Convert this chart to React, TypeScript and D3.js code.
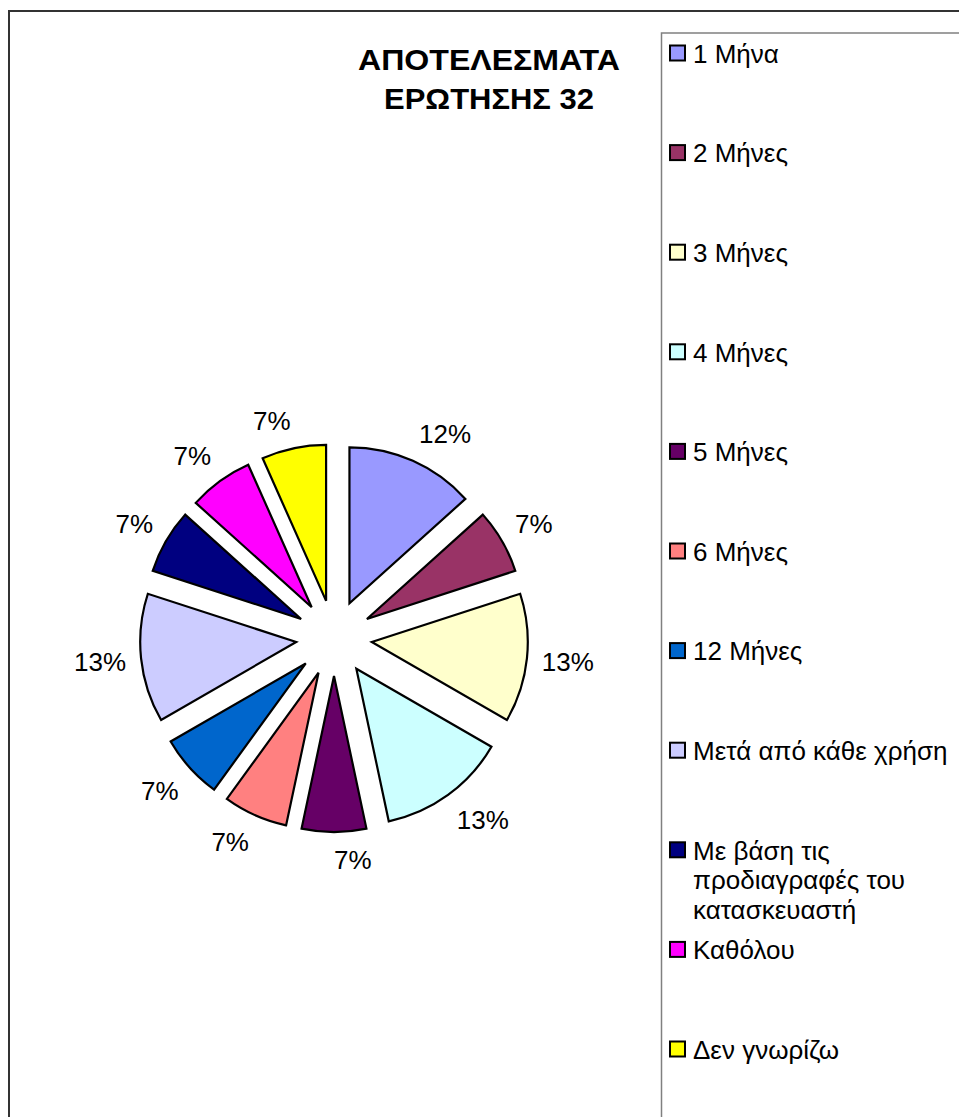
import React from "react";
import * as d3 from "d3";

const categories = [
  "1 Μήνα",
  "2 Μήνες",
  "3 Μήνες",
  "4 Μήνες",
  "5 Μήνες",
  "6 Μήνες",
  "12 Μήνες",
  "Μετά από κάθε χρήση",
  "Με βάση τις προδιαγραφές του κατασκευαστή",
  "Καθόλου",
  "Δεν γνωρίζω",
];
const responses = [2, 1, 2, 2, 1, 1, 1, 2, 1, 1, 1];
const percentLabels = ["12%", "7%", "13%", "13%", "7%", "7%", "7%", "13%", "7%", "7%", "7%"];
const legendLines = [
  ["1 Μήνα"],
  ["2 Μήνες"],
  ["3 Μήνες"],
  ["4 Μήνες"],
  ["5 Μήνες"],
  ["6 Μήνες"],
  ["12 Μήνες"],
  ["Μετά από κάθε χρήση"],
  ["Με βάση τις", "προδιαγραφές του", "κατασκευαστή"],
  ["Καθόλου"],
  ["Δεν γνωρίζω"],
];
const colors = [
  "#9999FF",
  "#993366",
  "#FFFFCC",
  "#CCFFFF",
  "#660066",
  "#FF8080",
  "#0066CC",
  "#CCCCFF",
  "#000080",
  "#FF00FF",
  "#FFFF00",
];
const titleLines = ["ΑΠΟΤΕΛΕΣΜΑΤΑ", "ΕΡΩΤΗΣΗΣ 32"];

const FONT = "'Liberation Sans', Arial, sans-serif";

function textWidth(s: string, size: number) {
  let w = 0;
  for (const ch of s) w += ch === "%" ? 0.889 : 0.556;
  return w * size;
}

export default function App() {
  const W = 959;
  const H = 1117;
  const cx = 334;
  const cy = 638;
  const r = 156;
  const explode = 38;
  const labelR = 209;
  const fontSize = 26;

  const pie = d3
    .pie<number>()
    .sort(null)
    .value((d) => d)
    .startAngle(0)
    .endAngle(2 * Math.PI);
  const arcs = pie(responses);
  const arc = d3.arc<d3.PieArcDatum<number>>().innerRadius(0).outerRadius(r);

  const legendX = 661.5;
  const legendY = 33;
  const itemY0 = 53.5;
  const itemStep = 99.6;

  const titleBase = [70, 109.3];
  const titleLen = [262, 210];

  return (
    <svg
      width={W}
      height={H}
      style={{ position: "absolute", left: 0, top: 0, background: "#fff" }}
      fontFamily={FONT}
    >
      <rect x={9} y={11} width={1100} height={1300} fill="#fff" stroke="#333" strokeWidth={2} />
      {titleLines.map((t, i) => (
        <text
          key={t}
          x={489}
          y={titleBase[i]}
          textAnchor="middle"
          fontWeight="bold"
          fontSize={30}
          textLength={titleLen[i]}
          lengthAdjust="spacingAndGlyphs"
          fill="#000"
        >
          {t}
        </text>
      ))}
      <g>
        {arcs.map((a, i) => {
          const mid = (a.startAngle + a.endAngle) / 2;
          const dx = Math.sin(mid) * explode;
          const dy = -Math.cos(mid) * explode;
          return (
            <path
              key={i}
              d={arc(a) || ""}
              transform={`translate(${cx + dx},${cy + dy})`}
              fill={colors[i]}
              stroke="#000"
              strokeWidth={2.2}
              strokeLinejoin="miter"
            />
          );
        })}
        {arcs.map((a, i) => {
          const mid = (a.startAngle + a.endAngle) / 2;
          const s = Math.sin(mid);
          const c = -Math.cos(mid);
          const label = percentLabels[i];
          const halfW = textWidth(label, fontSize) / 2;
          const x = cx + s * labelR + (s >= 0 ? 1 : -1) * halfW;
          const y = cy + c * labelR + Math.sign(c) * Math.min(Math.abs(c) * 19, 13);
          return (
            <text
              key={"l" + i}
              x={x}
              y={y + 9.3}
              textAnchor="middle"
              fontSize={fontSize}
              fill="#000"
            >
              {label}
            </text>
          );
        })}
      </g>
      <rect x={legendX} y={legendY} width={400} height={1200} fill="#fff" stroke="#808080" strokeWidth={1.5} />
      {categories.map((cat, i) => {
        const y = itemY0 + i * itemStep;
        return (
          <g key={cat}>
            <rect x={670} y={y - 8} width={15} height={15} fill={colors[i]} stroke="#000" strokeWidth={2} />
            <text fontSize={fontSize} fill="#000">
              {legendLines[i].map((line, j) => (
                <tspan key={j} x={693} y={y + 9.3 + j * 29.5}>
                  {line}
                </tspan>
              ))}
            </text>
          </g>
        );
      })}
    </svg>
  );
}
